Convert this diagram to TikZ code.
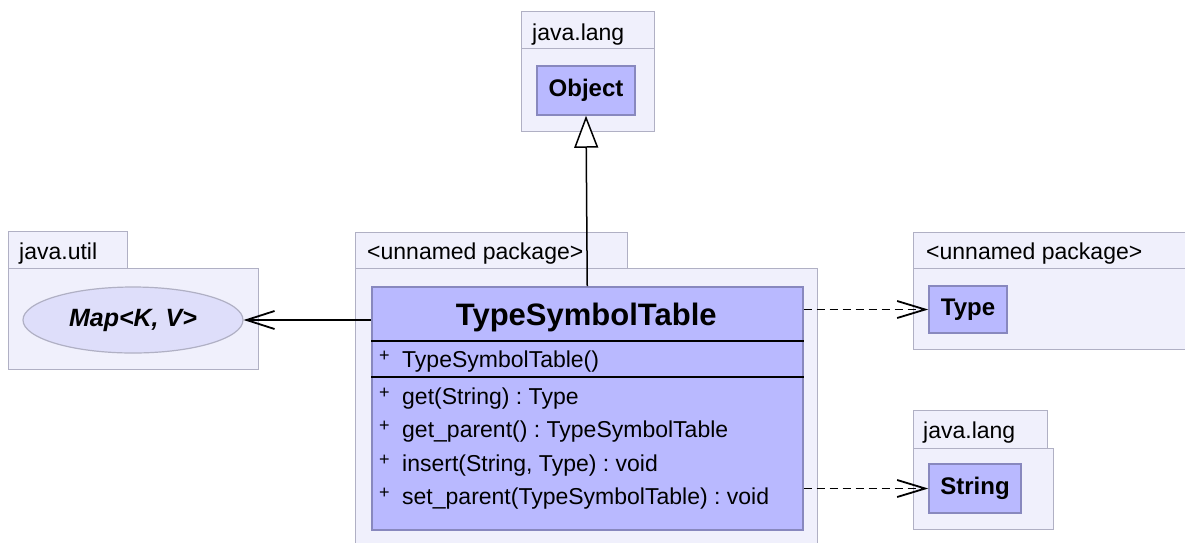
\documentclass[tikz,border=0pt]{standalone}
\usepackage{fontspec}
\setmainfont{Liberation Sans}
\usepackage{xcolor}
\usetikzlibrary{shapes.geometric, arrows.meta, positioning, calc}
\definecolor{pkgfill}{RGB}{240,240,252}
\definecolor{pkgline}{RGB}{176,176,196}
\definecolor{clsfill}{RGB}{185,185,255}
\definecolor{clsline}{RGB}{136,136,190}
\definecolor{ifacefill}{RGB}{222,222,250}
\frenchspacing
\newcommand{\pkgsize}{\fontsize{23}{27}\selectfont}
\newcommand{\pub}{\makebox[23pt][l]{\raisebox{6pt}{\fontsize{18}{18}\selectfont+}}}
\tikzstyle{pkgbox} = [draw=pkgline, fill=pkgfill, line width=1.2pt, rectangle, anchor=north west, inner sep=0pt]
\tikzstyle{pkglabel} = [anchor=base west, inner sep=0pt, font=\pkgsize]
\tikzstyle{classbox} = [draw=clsline, fill=clsfill, line width=1.5pt, rectangle, inner sep=0pt, font=\fontsize{24}{28}\selectfont\bfseries]
\tikzstyle{iface} = [draw=pkgline, fill=ifacefill, line width=1.2pt, ellipse, inner sep=0pt, font=\fontsize{25}{29}\selectfont\bfseries\itshape]
\tikzstyle{member} = [anchor=base west, inner sep=0pt, font=\fontsize{23}{27}\selectfont]
\tikzstyle{sep} = [draw=black, line width=1.5pt]
\tikzstyle{extends} = [draw, line width=1.5pt, -{Triangle[length=32pt, width=24pt, fill=white]}]
\tikzstyle{assoc} = [draw, line width=1.6pt, -{Straight Barb[length=28pt, width=18pt, line width=1.8pt]}]
\tikzstyle{dep} = [draw, line width=1.6pt, dash pattern=on 8pt off 5pt, -{Straight Barb[length=28pt, width=17pt, line width=1.8pt]}]
\begin{document}
\begin{tikzpicture}[x=1pt, y=-1pt]
    \useasboundingbox (0,0) rectangle (1185,542);

    % java.lang (Object)
    \node (langbody) [pkgbox, minimum width=133pt, minimum height=83pt] at (521,48) {};
    \node (langtab) [pkgbox, minimum width=133pt, minimum height=37pt] at (521,11) {};
    \node (langlbl) [pkglabel] at ($(langtab.south west)+(11,-9)$) {java.lang};
    \node (object) [classbox, minimum width=98pt, minimum height=49pt] at (586,90.5) {Object};

    % java.util (Map)
    \node (utilbody) [pkgbox, minimum width=250pt, minimum height=101pt] at (8,268) {};
    \node (utiltab) [pkgbox, minimum width=119pt, minimum height=37pt] at (8,231) {};
    \node (utillbl) [pkglabel] at ($(utiltab.south west)+(11,-10)$) {java.util};
    \node (map) [iface, minimum width=220pt, minimum height=66pt] at (133,320) {Map<K, V>};

    % unnamed package (TypeSymbolTable)
    \node (mainbody) [pkgbox, minimum width=462pt, minimum height=290pt] at (355,268) {};
    \node (maintab) [pkgbox, minimum width=272pt, minimum height=36pt] at (355,232) {};
    \node (mainlbl) [pkglabel] at ($(maintab.south west)+(12,-10)$) {<unnamed package>};
    \node (tst) [classbox, anchor=north west, minimum width=431pt, minimum height=243pt] at (371,286) {};
    \node (title) [anchor=base, inner sep=0pt, font=\fontsize{31}{35}\selectfont\bfseries] at ($(tst.north)+(-1,39)$) {TypeSymbolTable};
    \draw [sep] ($(tst.north west)+(0,55)$) -- ($(tst.north east)+(0,55)$);
    \draw [sep] ($(tst.north west)+(0,91)$) -- ($(tst.north east)+(0,91)$);
    \node (ctor) [member] at (379,367) {\pub TypeSymbolTable()};
    \node (m1) [member] at (379,404) {\pub get(String) : Type};
    \node (m2) [member] at (379,437.5) {\pub get\_parent() : TypeSymbolTable};
    \node (m3) [member] at (379,471) {\pub insert(String, Type) : void};
    \node (m4) [member] at (379,504.5) {\pub set\_parent(TypeSymbolTable) : void};

    % unnamed package (Type)
    \node (typebody) [pkgbox, minimum width=300pt, minimum height=81pt] at (913,268) {};
    \node (typetab) [pkgbox, minimum width=300pt, minimum height=36pt] at (913,232) {};
    \node (typelbl) [pkglabel] at ($(typetab.south west)+(13,-10)$) {<unnamed package>};
    \node (type) [classbox, minimum width=78pt, minimum height=47pt] at (968,309.5) {Type};

    % java.lang (String)
    \node (strbody) [pkgbox, minimum width=140pt, minimum height=81pt] at (913,448) {};
    \node (strtab) [pkgbox, minimum width=134pt, minimum height=38pt] at (913,410) {};
    \node (strlbl) [pkglabel] at ($(strtab.south west)+(10,-11)$) {java.lang};
    \node (string) [classbox, minimum width=92pt, minimum height=49pt] at (975,488.5) {String};

    % Relations
    \draw [extends] (tst.north) -- (object.south);
    \draw [assoc] (tst.west |- map) -- (map.east);
    \draw [dep] (tst.east |- type) -- (type.west);
    \draw [dep] (tst.east |- string) -- (string.west);
\end{tikzpicture}
\end{document}
